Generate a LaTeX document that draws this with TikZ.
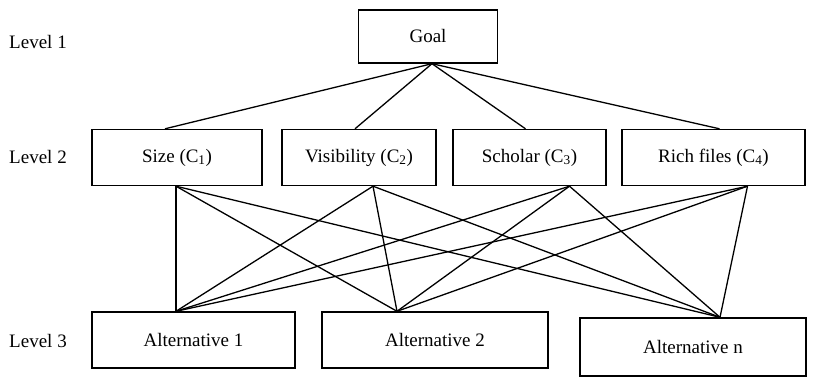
\documentclass[tikz,border=0pt]{standalone}
\usepackage{fontspec}
\setmainfont{Liberation Serif}
\begin{document}
\begin{tikzpicture}[x=1pt,y=-1pt,
  box/.style={draw,line width=1.4pt,minimum width=#1,minimum height=56pt,inner sep=0pt,font=\fontsize{19}{22}\selectfont},
  lvl/.style={font=\fontsize{19}{22}\selectfont},
  conn/.style={line width=1.3pt}]
\useasboundingbox (0,0) rectangle (838,379);
\node[lvl] (l1) at (38,42) {Level 1};
\node[lvl] (l2) at (38,157) {Level 2};
\node[lvl] (l3) at (38,341) {Level 3};
\node[box=139pt,minimum height=53pt] (g) at (428,36.5) {Goal};
\node[box=170pt] (c1) at (177,157.5) {Size (C\textsubscript{1})};
\node[box=154pt] (c2) at (359,157.5) {Visibility (C\textsubscript{2})};
\node[box=153pt] (c3) at (529.5,157.5) {Scholar (C\textsubscript{3})};
\node[box=183pt] (c4) at (713.5,157.5) {Rich files (C\textsubscript{4})};
\node[box=203pt] (a1) at (193.5,340) {Alternative 1};
\node[box=226pt] (a2) at (435,340) {Alternative 2};
\node[box=226pt,minimum height=58pt] (an) at (693,347) {Alternative n};
% attachment points
\coordinate (gb) at ([xshift=4pt]g.south);
\coordinate (c1t) at ([xshift=-12pt]c1.north);
\coordinate (c2t) at ([xshift=-4pt]c2.north);
\coordinate (c3t) at ([xshift=-4pt]c3.north);
\coordinate (c4t) at ([xshift=6pt]c4.north);
\coordinate (c1b) at ([xshift=-1pt]c1.south);
\coordinate (c2b) at ([xshift=14pt]c2.south);
\coordinate (c3b) at ([xshift=40pt]c3.south);
\coordinate (c4b) at ([xshift=34pt]c4.south);
\coordinate (a1t) at ([xshift=-17.5pt]a1.north);
\coordinate (a2t) at ([xshift=-38pt]a2.north);
\coordinate (ant) at ([xshift=27pt]an.north);
\foreach \c in {c1t,c2t,c3t,c4t} \draw[conn] (gb) -- (\c);
\foreach \c in {c1b,c2b,c3b,c4b}
  \foreach \a in {a1t,a2t,ant} \draw[conn] (\c) -- (\a);
\end{tikzpicture}
\end{document}
